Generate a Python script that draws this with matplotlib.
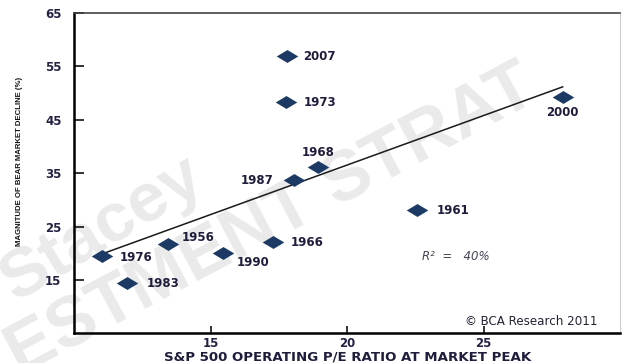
import numpy as np
import matplotlib
matplotlib.use("Agg")
import matplotlib.pyplot as plt
from matplotlib.path import Path

years = ["2007", "1973", "1968", "1987", "2000", "1961", "1966", "1956", "1990", "1976", "1983"]
pe_ratio = [17.8, 17.77, 18.94, 18.06, 27.9, 22.56, 17.29, 13.44, 15.46, 11.03, 11.94]
decline = [56.9, 48.3, 36.2, 33.7, 49.3, 28.1, 22.1, 21.7, 20.1, 19.5, 14.4]

x_ticks = [15, 20, 25]
y_ticks = [15, 25, 35, 45, 55, 65]

# label offsets (points) and alignment per year
label_pos = {
    "2007": ((12, 0), "left", "center"),
    "1973": ((13, 0), "left", "center"),
    "1968": ((0, 10), "center", "center"),
    "1987": ((-15, 0), "right", "center"),
    "2000": ((0, -11), "center", "center"),
    "1961": ((14, 0), "left", "center"),
    "1966": ((13, 0), "left", "center"),
    "1956": ((10, 5), "left", "center"),
    "1990": ((10, -7), "left", "center"),
    "1976": ((13, -1), "left", "center"),
    "1983": ((14, 0), "left", "center"),
}

fig = plt.figure(figsize=(6.22, 3.63), dpi=100)
ax = fig.add_axes([74/622, 1-333/363, (620-74)/622, (333-13)/363])

# watermark
wm_color = "#eaeaea"
ax.text(16/622, 1-302/363, "Stacey", fontsize=50, color=wm_color, rotation=31,
        rotation_mode="anchor", ha="left", va="baseline", fontweight="bold",
        family="Liberation Sans", transform=fig.transFigure, zorder=0.5, clip_on=False)
ax.text(540/622, 1-100/363, "INVESTMENT STRAT", fontsize=51, color=wm_color, rotation=28,
        rotation_mode="anchor", ha="right", va="baseline", fontweight="bold",
        family="Liberation Sans", transform=fig.transFigure, zorder=0.5, clip_on=False)

navy = "#1c3a63"
diamond = Path([(-1, 0), (0, 0.6), (1, 0), (0, -0.6), (-1, 0)],
               [Path.MOVETO, Path.LINETO, Path.LINETO, Path.LINETO, Path.CLOSEPOLY])
ax.scatter(pe_ratio, decline, marker=diamond, s=15.5**2, color=navy, zorder=3, linewidths=0)

# regression line
slope, intercept = np.polyfit(pe_ratio, decline, 1)
xs = np.array([min(pe_ratio), max(pe_ratio)])
ax.plot(xs, slope*xs + intercept, color="#1a1a1a", lw=1.1, zorder=2)

for yr, x, y in zip(years, pe_ratio, decline):
    (dx, dy), ha, va = label_pos[yr]
    ax.annotate(yr, (x, y), xytext=(dx, dy), textcoords="offset points",
                ha=ha, va=va, fontsize=8.5, fontweight="bold", color="#1e1e3c",
                family="DejaVu Sans", zorder=4)

ax.text(22.75, 19.5, "R²  =   40%", fontsize=8.5, style="italic", color="#444455",
        family="DejaVu Sans", ha="left", va="center")
ax.text(29.16, 7.3, "© BCA Research 2011", fontsize=8.6, color="#222233",
        family="DejaVu Sans", ha="right", va="center")

ax.set_xlim(10, 30)
ax.set_ylim(5.1, 65)
ax.set_xticks(x_ticks)
ax.set_yticks(y_ticks)
ax.tick_params(direction="in", length=7, width=1.2, colors="#111111", labelsize=8.5)
ax.tick_params(axis="x", length=5, pad=3)
for lab in ax.get_xticklabels() + ax.get_yticklabels():
    lab.set_fontweight("bold")
    lab.set_family("DejaVu Sans")
    lab.set_color("#222244")
ax.tick_params(axis="y", pad=9)

ax.spines["left"].set_linewidth(1.8)
ax.spines["bottom"].set_linewidth(1.8)
ax.spines["top"].set_linewidth(1.2)
ax.spines["top"].set_color("#444444")
ax.spines["right"].set_linewidth(0.8)
ax.spines["right"].set_color("#cccccc")

fig.text(348/622, 1-357.5/363, "S&P 500 OPERATING P/E RATIO AT MARKET PEAK", fontsize=9.6,
         fontweight="bold", family="DejaVu Sans", color="#1e1e3c", ha="center", va="center")
fig.text(20/622, 1-161/363, "MAGNITUDE OF BEAR MARKET DECLINE (%)", rotation=90,
         fontsize=5.6, fontweight="bold", family=["Liberation Sans Narrow", "Liberation Sans"],
         color="#111111", ha="center", va="center")

fig.savefig("out.png", dpi=100)
